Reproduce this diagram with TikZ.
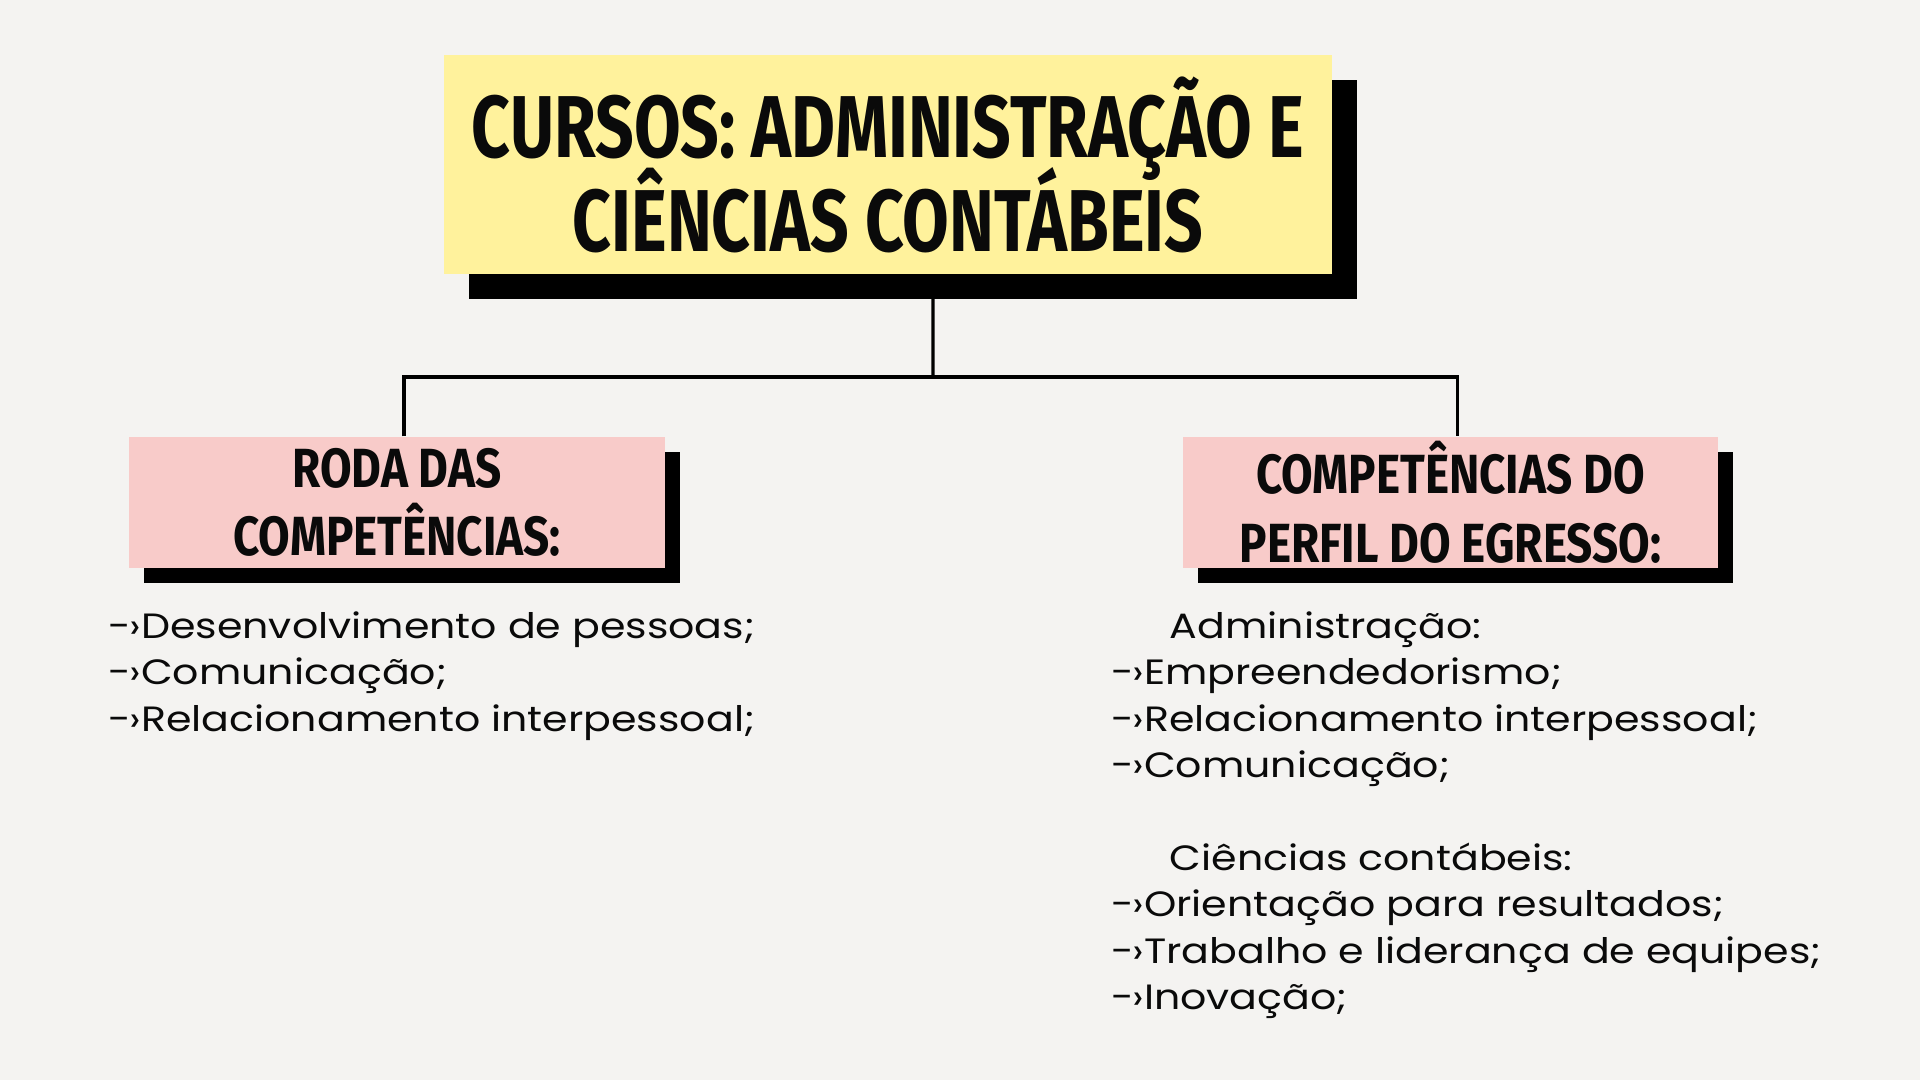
\documentclass[tikz,border=0pt]{standalone}
\usepackage{fontspec}
\setmainfont{Poppins}[FakeStretch=1.17]
\newfontfamily\headfont[FakeStretch=0.77]{Fira Sans}
\newfontfamily\tagfont[FakeStretch=0.83]{Fira Sans}
\usetikzlibrary{positioning,shadows}
\definecolor{paper}{HTML}{F4F3F1}
\definecolor{butter}{HTML}{FFF29C}
\definecolor{blush}{HTML}{F8CBC9}
\definecolor{ink}{HTML}{0A0A0A}
\newcommand{\tightlines}{\lineskiplimit=-30pt\relax}
\newcommand{\seta}{-\kern-0.05em›}

\begin{document}
\begin{tikzpicture}[x=0.1mm,y=-0.1mm,
  tag/.style={inner sep=0pt,align=center,text=ink,
    drop shadow={shadow xshift=#1,shadow yshift=-#1,fill=black,opacity=1}},
  link/.style={draw=black,line width=0.9pt},
  list/.style={anchor=north west,align=left,inner sep=0pt,text=ink,
    font=\fontsize{10}{13.2}\selectfont}]
\fill[paper] (0,0) rectangle (1920,1080);

% cabecalho
\node[tag=2.45mm,fill=butter,minimum width=88.8mm,minimum height=21.9mm,
  font=\headfont\bfseries\fontsize{25}{26.7}\selectfont\tightlines] (cursos) at (888,164.5)
  {CURSOS: ADMINISTRAÇÃO E\\CIÊNCIAS CONTÁBEIS};

% ramos
\node[tag=1.45mm,fill=blush,minimum width=53.6mm,minimum height=13.1mm,
  font=\tagfont\bfseries\fontsize{15.7}{19.5}\selectfont\tightlines] (roda) at (397,502.5)
  {RODA DAS\\COMPETÊNCIAS:};
\node[tag=1.45mm,fill=blush,minimum width=53.5mm,minimum height=13.1mm,
  font=\tagfont\bfseries\fontsize{15.7}{19.5}\selectfont\tightlines] (perfil) at (1450.5,502.5)
  {COMPETÊNCIAS DO\\PERFIL DO EGRESSO:};

\coordinate (hub) at (933,377);
\draw[link] ([xshift=4.5mm]cursos.south) -- (hub);
\draw[link] ([xshift=0.7mm]roda.north) |- (hub) -| ([xshift=0.7mm]perfil.north);

% listas
\node[list] (rodalist) at (108,611)
  {\seta Desenvolvimento de pessoas;\\
   \seta Comunicação;\\
   \seta Relacionamento interpessoal;};
\node[list] (perfillist) at (1111,611)
  {\hspace{5.8mm}Administração:\\
   \seta Empreendedorismo;\\
   \seta Relacionamento interpessoal;\\
   \seta Comunicação;\\[\baselineskip]
   \hspace{5.8mm}Ciências contábeis:\\
   \seta Orientação para resultados;\\
   \seta Trabalho e liderança de equipes;\\
   \seta Inovação;};
\end{tikzpicture}
\end{document}
